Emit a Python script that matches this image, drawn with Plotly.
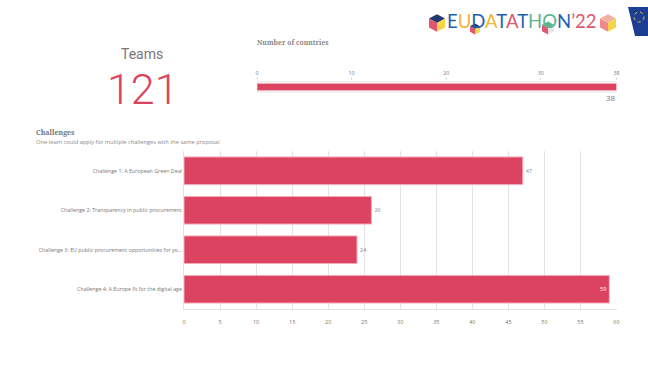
import plotly.graph_objects as go

W, H = 648, 365

# Data
challenges = [
    "Challenge 1: A European Green Deal",
    "Challenge 2: Transparency in public procurement",
    "Challenge 3: EU public procurement opportunities for yo...",
    "Challenge 4: A Europe fit for the digital age",
]
challenge_teams = [47, 26, 24, 59]
countries_label = ["Countries"]
countries_value = [38]
teams_total = "121"
country_ticks = [0, 10, 20, 30, 38]
challenge_ticks = list(range(0, 65, 5))
logo_letters = ["E", "U", "D", "A", "T", "A", "T", "H", "O", "N", "’22"]
logo_colors = ["#1f5fb0", "#f2b632", "#1f5fb0", "#f2b632", "#1f5fb0", "#e0566e",
               "#1f5fb0", "#5db58e", "#5db58e", "#1f5fb0", "#e0566e"]

RED = "#dc4360"
EDGE = "#f4aebb"
GRID = "#e4e4e4"
TXT = "#777777"
FONT = "Open Sans"


def px(x):
    return x / W


def py(y):
    return 1 - y / H


fig = go.Figure()

fig.add_trace(go.Bar(
    x=challenge_teams, y=challenges, orientation="h", xaxis="x", yaxis="y",
    width=0.7, marker=dict(color=RED, line=dict(color=EDGE, width=1)),
    text=challenge_teams, textangle=0, cliponaxis=False,
    textposition=["outside", "outside", "outside", "inside"],
    insidetextanchor="end", constraintext="none",
    outsidetextfont=dict(size=5.5, color="#888888", family=FONT),
    insidetextfont=dict(size=5.5, color="#ffffff", family=FONT),
    showlegend=False, hoverinfo="skip",
))
fig.add_trace(go.Bar(
    x=countries_value, y=countries_label, orientation="h", xaxis="x2", yaxis="y2",
    width=0.58, marker=dict(color=RED, line=dict(color=EDGE, width=1)),
    showlegend=False, hoverinfo="skip",
))

layout_shapes = [
    dict(type="rect", xref="paper", yref="paper", x0=px(257), x1=px(616.5),
         y0=py(93), y1=py(81), fillcolor="#f1f1f1", line_width=0, layer="below"),
    dict(type="path", xref="paper", yref="paper",
         path=f"M {px(628)} {py(7)} L {px(648)} {py(7)} L {px(648)} {py(36)} L {px(635)} {py(36)} Z",
         fillcolor="#1c3f94", line_width=0),
    dict(type="circle", xref="paper", yref="paper", x0=px(634), x1=px(644),
         y0=py(22), y1=py(12), line=dict(color="#d9c24a", width=1, dash="dot")),
]


def cube(cx, cy, r, top, left, right):
    h = r * 0.55
    pts = {
        "top": [(cx, cy - 2 * h), (cx + r, cy - h), (cx, cy), (cx - r, cy - h)],
        "left": [(cx - r, cy - h), (cx, cy), (cx, cy + 2 * h), (cx - r, cy + h)],
        "right": [(cx + r, cy - h), (cx, cy), (cx, cy + 2 * h), (cx + r, cy + h)],
    }
    out = []
    for key, col in (("top", top), ("left", left), ("right", right)):
        path = "M " + " L ".join(f"{px(a)} {py(b)}" for a, b in pts[key]) + " Z"
        out.append(dict(type="path", xref="paper", yref="paper", path=path,
                        fillcolor=col, line_width=0))
    return out


layout_shapes += cube(437, 23, 8, "#22386f", "#e0566e", "#f5d54a")
layout_shapes += cube(475, 29, 5, "#22386f", "#e0566e", "#f5d54a")
layout_shapes += cube(548, 28, 6, "#5db58e", "#e0566e", "#e8e8e8")
layout_shapes += cube(608, 23, 8, "#f3b0a0", "#f08a8a", "#f5d54a")

logo_text = "".join(f'<span style="color:{c}">{l}</span>' for l, c in zip(logo_letters, logo_colors))

ann = [
    dict(text="Teams", x=px(142), y=py(54), font=dict(size=14, color=TXT, family="Roboto"),
         xanchor="center", yanchor="middle"),
    dict(text=teams_total, x=px(143), y=py(89), font=dict(size=43, color=RED, family="Roboto", weight=300),
         xanchor="center", yanchor="middle"),
    dict(text="<b>Number of countries</b>", x=px(255), y=py(43), font=dict(size=6.8, color="#8a8a8a", family="Noto Serif, DejaVu Serif"),
         xanchor="left", yanchor="middle"),
    dict(text=str(countries_value[0]), x=px(618), y=py(97.5), font=dict(size=8, color=TXT, family=FONT),
         xanchor="right", yanchor="middle"),
    dict(text="<b>Challenges</b>", x=px(34), y=py(132), font=dict(size=7, color="#777777", family="Noto Serif, DejaVu Serif"),
         xanchor="left", yanchor="middle"),
    dict(text="One team could apply for multiple challenges with the same proposal", x=px(34), y=py(141.5),
         font=dict(size=5.7, color="#8a8a8a", family=FONT), xanchor="left", yanchor="middle"),
    dict(text=logo_text, x=px(522), y=py(21), font=dict(size=18.5, family="Lato"),
         xanchor="center", yanchor="middle"),
]
for a in ann:
    a.update(xref="paper", yref="paper", showarrow=False)

fig.update_layout(
    width=W, height=H, margin=dict(l=0, r=0, t=0, b=0),
    paper_bgcolor="white", plot_bgcolor="rgba(0,0,0,0)",
    font=dict(family=FONT, color=TXT, size=6),
    shapes=layout_shapes, annotations=ann, bargap=0.3,
    xaxis=dict(domain=[px(184), px(616.5)], range=[0, 60], tickvals=challenge_ticks, automargin=False,
               gridcolor=GRID, gridwidth=1, zeroline=False, showline=True, linecolor=GRID,
               ticks="", tickfont=dict(size=5.5, color=TXT, family=FONT), ticklabelstandoff=7,
               anchor="y"),
    yaxis=dict(domain=[py(309), py(151)], type="category", autorange="reversed", automargin=False,
               showline=True, linecolor=GRID, ticks="", ticklabelstandoff=0,
               tickfont=dict(size=5.3, color=TXT, family=FONT), anchor="x", showgrid=False),
    xaxis2=dict(domain=[px(257), px(616.5)], range=[0, 38], tickvals=country_ticks, side="top", automargin=False,
                showgrid=False, zeroline=False, ticks="outside", ticklen=3, tickcolor="#dddddd",
                tickfont=dict(size=5.3, color=TXT, family=FONT), anchor="y2"),
    yaxis2=dict(domain=[py(93), py(81)], type="category", showticklabels=False, automargin=False,
                showgrid=False, zeroline=False, ticks="", anchor="x2"),
)

fig.write_html("out.html", config=dict(displayModeBar=False),
               post_script="document.body.style.margin='0';")
